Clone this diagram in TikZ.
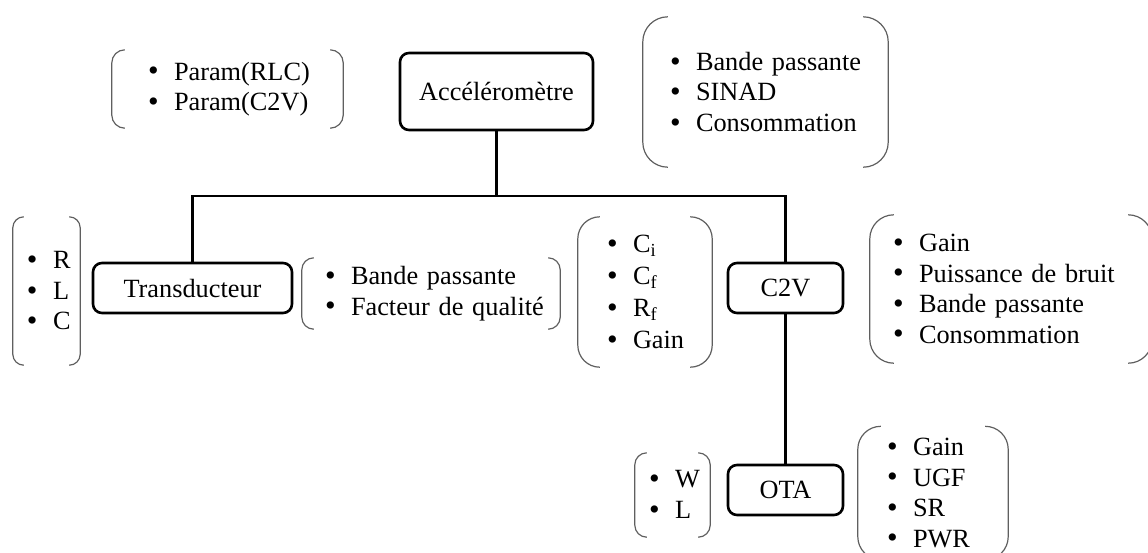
\documentclass[tikz,border=0pt]{standalone}
\usepackage{fontspec}
\usepackage{graphicx}
\setmainfont{Liberation Serif}
\definecolor{brkgray}{RGB}{95,95,95}
\newcommand\fs{\fontsize{26.3}{30.5}\selectfont}
\newcommand\itm[1]{\mbox{\makebox[26pt][l]{\raisebox{-0.8pt}{\scalebox{1.15}{\textbullet}}}#1}}
\newcommand\drawbrk[2]{%
  \draw[brkline, rounded corners=#2pt] ([xshift=#2pt]#1.north west) -- (#1.north west) -- (#1.south west) -- ([xshift=#2pt]#1.south west);
  \draw[brkline, rounded corners=#2pt] ([xshift=-#2pt]#1.north east) -- (#1.north east) -- (#1.south east) -- ([xshift=-#2pt]#1.south east);}
\tikzset{
  box/.style={draw, line width=2.6pt, rounded corners=9pt, inner sep=0pt, font=\fs},
  lst/.style={inner ysep=0pt, align=left, font=\fs},
  link/.style={line width=2.6pt, line join=miter},
  brkline/.style={draw=brkgray, line width=1.2pt}
}
\begin{document}
\begin{tikzpicture}[x=1pt,y=-1pt]
\useasboundingbox (0,0) rectangle (1148,552);
% main boxes
\node[box, minimum width=193, minimum height=77] (acc) at (496.5,91.5) {Accéléromètre};
\node[box, minimum width=199, minimum height=50] (tr) at (192.5,288) {Transducteur};
\node[box, minimum width=115, minimum height=50] (c2v) at (785.5,288) {C2V};
\node[box, minimum width=115, minimum height=50] (ota) at (785.5,490) {OTA};
% lists
\node[lst, minimum width=231, minimum height=78, inner xsep=36pt, text width=159pt] (pacc) at (227.5,89)
  {\itm{Param(RLC)}\\ \itm{Param(C2V)}};
\node[lst, minimum width=245, minimum height=150, inner xsep=27pt, text width=191pt] (sacc) at (765.5,92)
  {\itm{Bande passante}\\ \itm{SINAD}\\ \itm{Consommation}};
\node[lst, minimum width=67, minimum height=148, inner xsep=14pt, text width=39pt] (ptr) at (46.5,291)
  {\itm{R}\\ \itm{L}\\ \itm{C}};
\node[lst, minimum width=258, minimum height=71, inner xsep=23pt, text width=212pt] (str) at (431,293.5)
  {\itm{Bande passante}\\ \itm{Facteur de qualité}};
\node[lst, minimum width=134, minimum height=150, inner xsep=29pt, text width=76pt] (pc2v) at (645,292)
  {\itm{C\textsubscript{i}}\\[1.5pt] \itm{C\textsubscript{f}}\\[1.5pt] \itm{R\textsubscript{f}}\\[1.5pt] \itm{Gain}};
\node[lst, minimum width=282, minimum height=148, inner xsep=23pt, text width=236pt] (sc2v) at (1011,289)
  {\itm{Gain}\\ \itm{Puissance de bruit}\\ \itm{Bande passante}\\ \itm{Consommation}};
\node[lst, minimum width=75, minimum height=84, inner xsep=14pt, text width=47pt] (pota) at (672.5,495)
  {\itm{W}\\ \itm{L}};
\node[lst, minimum width=150, minimum height=133, inner xsep=29pt, text width=92pt] (sota) at (933,493)
  {\itm{Gain}\\ \itm{UGF}\\ \itm{SR}\\ \itm{PWR}};
% brackets
\drawbrk{pacc}{13}
\drawbrk{sacc}{25}
\drawbrk{ptr}{11}
\drawbrk{str}{12}
\drawbrk{pc2v}{22}
\drawbrk{sc2v}{24}
\drawbrk{pota}{12}
\drawbrk{sota}{23}
% connectors
\coordinate (bus) at (0,196);
\draw[link] (acc.south) -- (acc.south |- bus);
\draw[link] (tr.north) -- (tr.north |- bus) -- (c2v.north |- bus) -- (c2v.north);
\draw[link] (c2v.south) -- (ota.north);
\end{tikzpicture}
\end{document}
